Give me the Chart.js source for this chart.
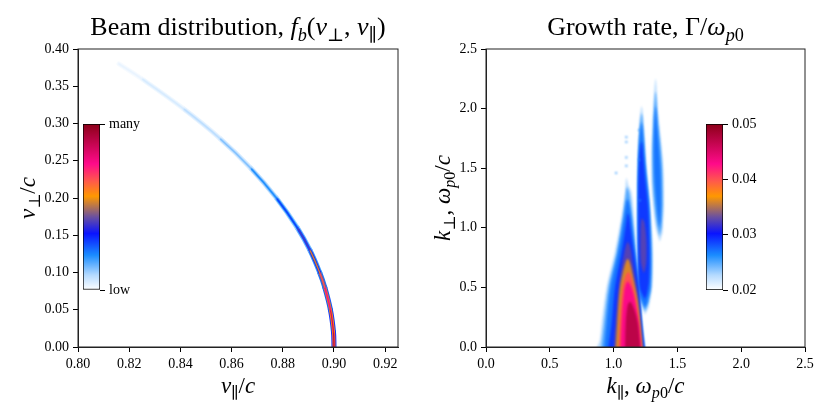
<!DOCTYPE html>
<html>
<head>
    <title>Beam distribution and growth rate</title>
    <script src="https://cdn.jsdelivr.net/npm/chart.js"></script>
    <style>
        body { margin: 0; background: #fff; }
        #fig { position: relative; width: 830px; height: 415px; }
        canvas { position: absolute; }
    </style>
</head>
<body>
<div id="fig">
    <canvas id="beam" width="415" height="415" style="left:0;top:0"></canvas>
    <canvas id="growth" width="415" height="415" style="left:415px;top:0"></canvas>
    <canvas id="cbBeam" width="60" height="195" style="left:83px;top:110px"></canvas>
    <canvas id="cbGrowth" width="60" height="195" style="left:706px;top:110px"></canvas>
</div>
<script>
    // ---- left panel: beam ring ----
    const vPerp = [0, 0.02, 0.05, 0.08, 0.10, 0.13, 0.16, 0.20, 0.24, 0.28, 0.32, 0.36, 0.38];
    const vPar = [0.9000, 0.8998, 0.8986, 0.8964, 0.8944, 0.8906, 0.8857, 0.8775, 0.8675, 0.8554, 0.8411, 0.8249, 0.8160];
    const beamDensity = [1.0, 0.98, 0.9, 0.8, 0.68, 0.5, 0.38, 0.28, 0.18, 0.11, 0.07, 0.04, 0.02];
    const vParTicks = [0.80, 0.82, 0.84, 0.86, 0.88, 0.90, 0.92];
    const vPerpTicks = [0, 0.05, 0.10, 0.15, 0.20, 0.25, 0.30, 0.35, 0.40];
    const beamBarTicks = [0, 1];
    const beamBarLabels = ['low', 'many'];

    // ---- right panel: growth rate contours [k_par, k_perp] ----
    const levels = [0.0225, 0.025, 0.027, 0.029, 0.0325, 0.036, 0.040, 0.043, 0.047];
    const mainLobe = [
        [[0.855,-0.03],[0.89,0.05],[0.906,0.2],[0.945,0.5],[1.01,0.8],[1.063,1.1],[1.09,1.3],[1.10,1.42],[1.115,1.36],[1.14,1.3],[1.16,1.1],[1.18,0.8],[1.205,0.5],[1.225,0.2],[1.248,-0.03]],
        [[0.90,-0.03],[0.925,0.2],[0.96,0.5],[1.025,0.8],[1.073,1.1],[1.095,1.28],[1.105,1.34],[1.125,1.28],[1.145,1.1],[1.172,0.8],[1.2,0.5],[1.222,0.2],[1.246,-0.03]],
        [[0.925,-0.03],[0.945,0.2],[0.976,0.5],[1.036,0.8],[1.083,1.1],[1.1,1.22],[1.11,1.24],[1.122,1.2],[1.138,1.1],[1.168,0.8],[1.198,0.5],[1.22,0.2],[1.244,-0.03]],
        [[0.955,-0.03],[0.984,0.2],[1.01,0.5],[1.063,0.8],[1.1,1.05],[1.11,1.12],[1.12,1.1],[1.132,1.0],[1.165,0.75],[1.196,0.5],[1.218,0.2],[1.242,-0.03]],
        [[1.0,-0.03],[1.015,0.2],[1.04,0.5],[1.085,0.8],[1.11,0.88],[1.13,0.84],[1.15,0.7],[1.19,0.45],[1.214,0.2],[1.235,-0.03]],
        [[1.015,-0.03],[1.028,0.2],[1.05,0.5],[1.085,0.68],[1.11,0.74],[1.13,0.7],[1.16,0.55],[1.188,0.4],[1.21,0.2],[1.228,-0.03]],
        [[1.04,-0.03],[1.05,0.2],[1.07,0.5],[1.095,0.6],[1.115,0.63],[1.135,0.6],[1.165,0.45],[1.19,0.3],[1.21,0.1],[1.222,-0.03]],
        [[1.055,-0.03],[1.063,0.2],[1.085,0.48],[1.11,0.55],[1.14,0.5],[1.17,0.38],[1.195,0.2],[1.215,-0.03]],
        [[1.09,-0.03],[1.095,0.2],[1.11,0.35],[1.13,0.38],[1.16,0.32],[1.19,0.2],[1.205,0.05],[1.21,-0.03]]
    ];
    const middleLobe = [
        [[1.246,0.27],[1.205,0.4],[1.188,0.8],[1.186,1.3],[1.19,1.6],[1.2,1.85],[1.22,2.02],[1.238,1.85],[1.258,1.5],[1.285,1.2],[1.308,0.8],[1.302,0.5],[1.275,0.33]],
        [[1.246,0.3],[1.205,0.42],[1.19,0.8],[1.188,1.3],[1.192,1.6],[1.203,1.82],[1.22,1.96],[1.235,1.8],[1.254,1.5],[1.282,1.2],[1.3,0.8],[1.295,0.5],[1.27,0.36]],
        [[1.246,0.33],[1.205,0.44],[1.192,0.8],[1.19,1.3],[1.195,1.6],[1.207,1.8],[1.22,1.88],[1.232,1.76],[1.25,1.5],[1.277,1.2],[1.292,0.8],[1.287,0.5],[1.266,0.38]],
        [[1.245,0.4],[1.205,0.5],[1.195,0.8],[1.194,1.3],[1.2,1.55],[1.212,1.7],[1.222,1.72],[1.232,1.6],[1.248,1.4],[1.272,1.15],[1.282,0.8],[1.277,0.55],[1.26,0.44]],
        [[1.235,0.62],[1.212,0.72],[1.21,0.95],[1.22,1.08],[1.24,1.05],[1.257,0.9],[1.257,0.72],[1.245,0.64]]
    ];
    const upperLobe = [
        [[1.362,0.88],[1.33,1.0],[1.303,1.3],[1.297,1.6],[1.306,1.9],[1.329,2.25],[1.35,1.95],[1.387,1.55],[1.394,1.2],[1.384,0.96]],
        [[1.36,0.93],[1.336,1.05],[1.31,1.32],[1.304,1.6],[1.312,1.88],[1.329,2.14],[1.345,1.92],[1.378,1.55],[1.385,1.2],[1.376,1.0]],
        [[1.358,1.0],[1.342,1.12],[1.32,1.4],[1.314,1.65],[1.32,1.9],[1.33,2.02],[1.342,1.85],[1.367,1.5],[1.373,1.2],[1.367,1.05]]
    ];
    const speckles = [[1.10,1.76],[1.10,1.72],[1.10,1.59],[1.10,1.52],[1.02,1.46],[1.20,1.82],[1.20,1.57],[1.206,1.23]];
    const speckleLevel = 0.026;
    const kTicks = [0, 0.5, 1.0, 1.5, 2.0, 2.5];
    const growthBarTicks = [0.02, 0.03, 0.04, 0.05];
    const growthMin = 0.02, growthMax = 0.05;

    // colour map (white -> blue -> orange -> pink -> dark red)
    const cmapStops = [
        [0, '#ffffff'], [0.09, '#b4daff'], [0.21, '#1a8cff'], [0.34, '#0a14ff'],
        [0.44, '#6a50a0'], [0.565, '#ff9800'], [0.655, '#ff5a4a'], [0.76, '#ff0a8a'], [1, '#8c0018']
    ];

    function hexRgb(h) {
        return [parseInt(h.slice(1, 3), 16), parseInt(h.slice(3, 5), 16), parseInt(h.slice(5, 7), 16)];
    }

    function cmap(f) {
        f = Math.max(0, Math.min(1, f));
        for (let i = 1; i < cmapStops.length; i++) {
            const [f1, c1] = cmapStops[i];
            if (f <= f1) {
                const [f0, c0] = cmapStops[i - 1];
                const t = (f - f0) / (f1 - f0);
                const a = hexRgb(c0), b = hexRgb(c1);
                const m = a.map((v, j) => Math.round(v + (b[j] - v) * t));
                return `rgb(${m[0]},${m[1]},${m[2]})`;
            }
        }
        return cmapStops[cmapStops.length - 1][1];
    }

    const SERIF = '"Liberation Serif", "DejaVu Serif", serif';
    Chart.defaults.font.family = SERIF;
    Chart.defaults.font.size = 14;
    Chart.defaults.color = '#000';

    // text with italics and subscripts: [text, kind], kind r / i / sr / si
    function drawMath(ctx, parts, x, y, size, rot) {
        const fontFor = k => (k.endsWith('i') ? 'italic ' : '') + (k[0] === 's' ? size * 0.7 : size) + 'px ' + SERIF;
        ctx.save();
        ctx.translate(x, y);
        if (rot) ctx.rotate(rot);
        ctx.fillStyle = '#000';
        ctx.textBaseline = 'alphabetic';
        ctx.textAlign = 'left';
        let w = 0;
        parts.forEach(p => { ctx.font = fontFor(p[1]); w += ctx.measureText(p[0]).width; });
        let cx = -w / 2;
        parts.forEach(p => {
            ctx.font = fontFor(p[1]);
            ctx.fillText(p[0], cx, p[1][0] === 's' ? size * 0.22 : 0);
            cx += ctx.measureText(p[0]).width;
        });
        ctx.restore();
    }

    function labelsPlugin(title, xLabel, yLabel) {
        return {
            id: 'labels',
            afterDraw(chart) {
                const { ctx, chartArea: a } = chart;
                ctx.save();
                ctx.strokeStyle = '#222';
                ctx.lineWidth = 1;
                ctx.strokeRect(a.left, a.top, a.right - a.left, a.bottom - a.top);
                ctx.restore();
                const cx = (a.left + a.right) / 2;
                drawMath(ctx, title, cx, 35, 26);
                drawMath(ctx, xLabel, cx, 393, 23);
                drawMath(ctx, yLabel, 35, (a.top + a.bottom) / 2, 23, -Math.PI / 2);
            }
        };
    }

    function blurPlugin(px) {
        return {
            id: 'blur',
            beforeDatasetsDraw(chart) { chart.ctx.save(); chart.ctx.filter = `blur(${px}px)`; },
            afterDatasetsDraw(chart) { chart.ctx.restore(); }
        };
    }

    function axis(min, max, ticks, digits, size, isX) {
        return {
            type: 'linear', min, max,
            afterBuildTicks: s => { s.ticks = ticks.map(v => ({ value: v })); },
            afterFit: s => { if (isX) s.height = size; else s.width = size; },
            ticks: { autoSkip: false, maxRotation: 0, padding: 4, callback: v => v.toFixed(digits) },
            grid: { drawOnChartArea: false, tickLength: 5, tickColor: '#000', lineWidth: 1 },
            border: { color: '#222', width: 1 }
        };
    }

    // left chart: three layers of the same ring, outer band first, core on top
    const beamLayers = [[5, 0.32], [3, 0.62], [1.3, 0.9]];
    const ringPoints = vPar.map((x, i) => ({ x, y: vPerp[i] }));
    new Chart(document.getElementById('beam'), {
        type: 'scatter',
        data: {
            datasets: beamLayers.map(([w, gain], i) => ({
                data: ringPoints,
                showLine: true,
                pointRadius: 0,
                tension: 0.4,
                borderWidth: w,
                borderCapStyle: 'round',
                borderColor: cmap(0.1),
                order: 10 - i,
                segment: {
                    borderColor: c => cmap(gain * (beamDensity[c.p0DataIndex] + beamDensity[c.p1DataIndex]) / 2)
                }
            }))
        },
        options: {
            responsive: false, animation: false,
            layout: { padding: { left: 0, top: 49, right: 17, bottom: 0 } },
            plugins: { legend: { display: false }, tooltip: { enabled: false } },
            scales: {
                x: axis(0.8, 0.925, vParTicks, 2, 68, true),
                y: axis(0, 0.4, vPerpTicks, 2, 78, false)
            }
        },
        plugins: [
            blurPlugin(0.5),
            labelsPlugin(
                [['Beam distribution, ', 'r'], ['f', 'i'], ['b', 'si'], ['(', 'r'], ['v', 'i'], ['\u22A5', 'sr'],
                 [', ', 'r'], ['v', 'i'], ['\u2225', 'sr'], [')', 'r']],
                [['v', 'i'], ['\u2225', 'sr'], ['/', 'r'], ['c', 'i']],
                [['v', 'i'], ['\u22A5', 'sr'], ['/', 'r'], ['c', 'i']]
            )
        ]
    });

    // right chart: filled contour levels, higher levels on top
    const growthSets = [];
    [mainLobe, middleLobe, upperLobe].forEach(lobe => {
        lobe.forEach((poly, li) => {
            growthSets.push({
                data: poly.map(([x, y]) => ({ x, y })),
                showLine: true, fill: 'shape', tension: 0.3,
                borderWidth: 0, pointRadius: 0,
                backgroundColor: cmap((levels[li] - growthMin) / (growthMax - growthMin)),
                order: 100 - li
            });
        });
    });
    growthSets.push({
        data: speckles.map(([x, y]) => ({ x, y })),
        pointStyle: 'rect', pointRadius: 1.2, borderWidth: 0,
        backgroundColor: cmap((speckleLevel - growthMin) / (growthMax - growthMin)),
        order: 0
    });

    new Chart(document.getElementById('growth'), {
        type: 'scatter',
        data: { datasets: growthSets },
        options: {
            responsive: false, animation: false,
            layout: { padding: { left: 0, top: 49, right: 25, bottom: 0 } },
            plugins: { legend: { display: false }, tooltip: { enabled: false } },
            scales: {
                x: axis(0, 2.5, kTicks, 1, 68, true),
                y: axis(0, 2.5, kTicks, 1, 71, false)
            }
        },
        plugins: [
            blurPlugin(0.8),
            labelsPlugin(
                [['Growth rate, \u0393/', 'r'], ['\u03C9', 'i'], ['p', 'si'], ['0', 'sr']],
                [['k', 'i'], ['\u2225', 'sr'], [', ', 'r'], ['\u03C9', 'i'], ['p', 'si'], ['0', 'sr'], ['/', 'r'], ['c', 'i']],
                [['k', 'i'], ['\u22A5', 'sr'], [', ', 'r'], ['\u03C9', 'i'], ['p', 'si'], ['0', 'sr'], ['/', 'r'], ['c', 'i']]
            )
        ]
    });

    // colour bars as small floating-bar charts with their own axis
    function colorBar(id, lo, hi, ticks, fmt) {
        new Chart(document.getElementById(id), {
            type: 'bar',
            data: {
                labels: [''],
                datasets: [{
                    data: [[lo, hi]],
                    barPercentage: 1, categoryPercentage: 1,
                    borderColor: '#000', borderWidth: 1, borderSkipped: false,
                    backgroundColor: c => {
                        const a = c.chart.chartArea;
                        if (!a) return '#fff';
                        const g = c.chart.ctx.createLinearGradient(0, a.bottom, 0, a.top);
                        cmapStops.forEach(([f, col]) => g.addColorStop(f, col));
                        return g;
                    }
                }]
            },
            options: {
                responsive: false, animation: false,
                layout: { padding: { left: 0, top: 14, right: 0, bottom: 15 } },
                plugins: { legend: { display: false }, tooltip: { enabled: false } },
                scales: {
                    x: { display: false },
                    y: {
                        position: 'right', min: lo, max: hi,
                        afterBuildTicks: s => { s.ticks = ticks.map(v => ({ value: v })); },
                        afterFit: s => { s.width = 43; },
                        ticks: { padding: 4, callback: fmt },
                        grid: { drawOnChartArea: false, tickLength: 5, tickColor: '#000' },
                        border: { display: false }
                    }
                }
            }
        });
    }

    colorBar('cbBeam', 0, 1, beamBarTicks, v => beamBarLabels[beamBarTicks.indexOf(v)]);
    colorBar('cbGrowth', growthMin, growthMax, growthBarTicks, v => v.toFixed(2));
</script>
</body>
</html>
